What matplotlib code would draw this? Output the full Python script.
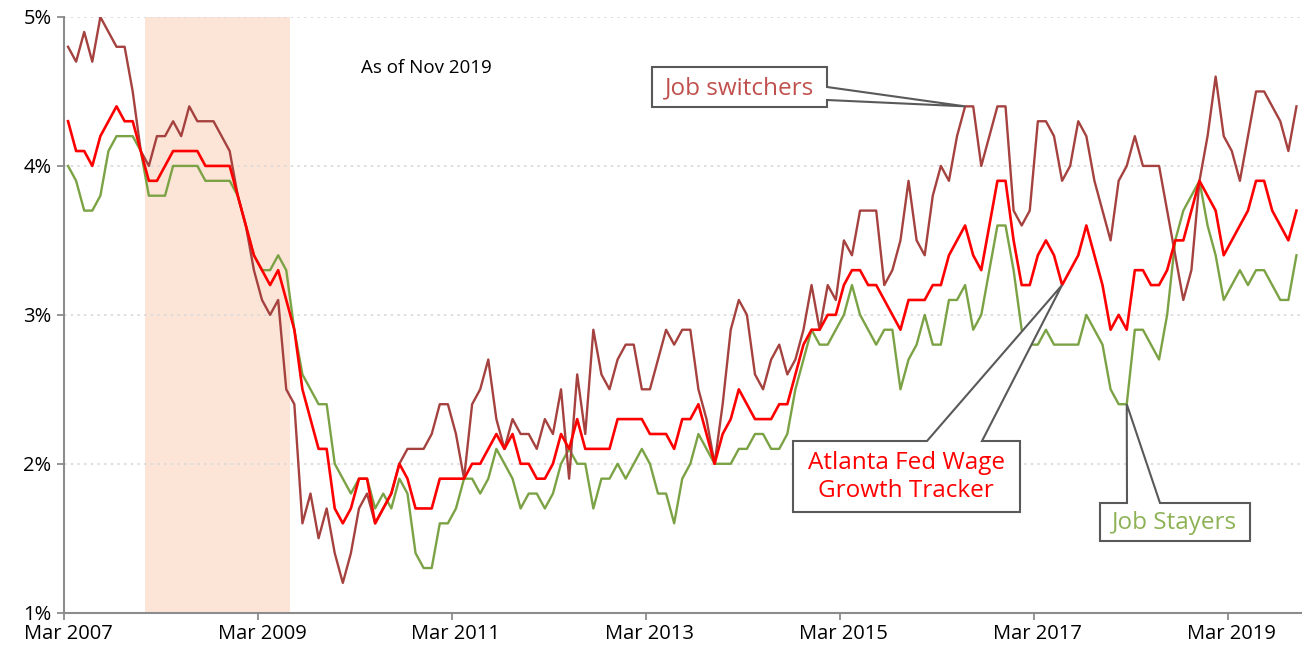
import matplotlib
matplotlib.use("Agg")
import matplotlib.pyplot as plt
from matplotlib.patches import Polygon
import numpy as np
import pandas as pd

# monthly wage growth, 3-month moving average of median (%), Mar 2007 .. Nov 2019
switchers = [4.8, 4.7, 4.9, 4.7, 5.0, 4.9, 4.8, 4.8, 4.5, 4.1, 4.0, 4.2, 4.2, 4.3, 4.2, 4.4, 4.3, 4.3, 4.3, 4.2,
             4.1, 3.8, 3.6, 3.3, 3.1, 3.0, 3.1, 2.5, 2.4, 1.6, 1.8, 1.5, 1.7, 1.4, 1.2, 1.4, 1.7, 1.8, 1.6, 1.7,
             1.8, 2.0, 2.1, 2.1, 2.1, 2.2, 2.4, 2.4, 2.2, 1.9, 2.4, 2.5, 2.7, 2.3, 2.1, 2.3, 2.2, 2.2, 2.1, 2.3,
             2.2, 2.5, 1.9, 2.6, 2.2, 2.9, 2.6, 2.5, 2.7, 2.8, 2.8, 2.5, 2.5, 2.7, 2.9, 2.8, 2.9, 2.9, 2.5, 2.3,
             2.0, 2.4, 2.9, 3.1, 3.0, 2.6, 2.5, 2.7, 2.8, 2.6, 2.7, 2.9, 3.2, 2.9, 3.2, 3.1, 3.5, 3.4, 3.7, 3.7,
             3.7, 3.2, 3.3, 3.5, 3.9, 3.5, 3.4, 3.8, 4.0, 3.9, 4.2, 4.4, 4.4, 4.0, 4.2, 4.4, 4.4, 3.7, 3.6, 3.7,
             4.3, 4.3, 4.2, 3.9, 4.0, 4.3, 4.2, 3.9, 3.7, 3.5, 3.9, 4.0, 4.2, 4.0, 4.0, 4.0, 3.7, 3.4, 3.1, 3.3,
             3.9, 4.2, 4.6, 4.2, 4.1, 3.9, 4.2, 4.5, 4.5, 4.4, 4.3, 4.1, 4.4]
tracker = [4.3, 4.1, 4.1, 4.0, 4.2, 4.3, 4.4, 4.3, 4.3, 4.1, 3.9, 3.9, 4.0, 4.1, 4.1, 4.1, 4.1, 4.0, 4.0, 4.0,
           4.0, 3.8, 3.6, 3.4, 3.3, 3.2, 3.3, 3.1, 2.9, 2.5, 2.3, 2.1, 2.1, 1.7, 1.6, 1.7, 1.9, 1.9, 1.6, 1.7,
           1.8, 2.0, 1.9, 1.7, 1.7, 1.7, 1.9, 1.9, 1.9, 1.9, 2.0, 2.0, 2.1, 2.2, 2.1, 2.2, 2.0, 2.0, 1.9, 1.9,
           2.0, 2.2, 2.1, 2.3, 2.1, 2.1, 2.1, 2.1, 2.3, 2.3, 2.3, 2.3, 2.2, 2.2, 2.2, 2.1, 2.3, 2.3, 2.4, 2.2,
           2.0, 2.2, 2.3, 2.5, 2.4, 2.3, 2.3, 2.3, 2.4, 2.4, 2.6, 2.8, 2.9, 2.9, 3.0, 3.0, 3.2, 3.3, 3.3, 3.2,
           3.2, 3.1, 3.0, 2.9, 3.1, 3.1, 3.1, 3.2, 3.2, 3.4, 3.5, 3.6, 3.4, 3.3, 3.6, 3.9, 3.9, 3.5, 3.2, 3.2,
           3.4, 3.5, 3.4, 3.2, 3.3, 3.4, 3.6, 3.4, 3.2, 2.9, 3.0, 2.9, 3.3, 3.3, 3.2, 3.2, 3.3, 3.5, 3.5, 3.7,
           3.9, 3.8, 3.7, 3.4, 3.5, 3.6, 3.7, 3.9, 3.9, 3.7, 3.6, 3.5, 3.7]
stayers = [4.0, 3.9, 3.7, 3.7, 3.8, 4.1, 4.2, 4.2, 4.2, 4.1, 3.8, 3.8, 3.8, 4.0, 4.0, 4.0, 4.0, 3.9, 3.9, 3.9,
           3.9, 3.8, 3.6, 3.4, 3.3, 3.3, 3.4, 3.3, 2.9, 2.6, 2.5, 2.4, 2.4, 2.0, 1.9, 1.8, 1.9, 1.9, 1.7, 1.8,
           1.7, 1.9, 1.8, 1.4, 1.3, 1.3, 1.6, 1.6, 1.7, 1.9, 1.9, 1.8, 1.9, 2.1, 2.0, 1.9, 1.7, 1.8, 1.8, 1.7,
           1.8, 2.0, 2.1, 2.0, 2.0, 1.7, 1.9, 1.9, 2.0, 1.9, 2.0, 2.1, 2.0, 1.8, 1.8, 1.6, 1.9, 2.0, 2.2, 2.1,
           2.0, 2.0, 2.0, 2.1, 2.1, 2.2, 2.2, 2.1, 2.1, 2.2, 2.5, 2.7, 2.9, 2.8, 2.8, 2.9, 3.0, 3.2, 3.0, 2.9,
           2.8, 2.9, 2.9, 2.5, 2.7, 2.8, 3.0, 2.8, 2.8, 3.1, 3.1, 3.2, 2.9, 3.0, 3.3, 3.6, 3.6, 3.3, 2.9, 2.8,
           2.8, 2.9, 2.8, 2.8, 2.8, 2.8, 3.0, 2.9, 2.8, 2.5, 2.4, 2.4, 2.9, 2.9, 2.8, 2.7, 3.0, 3.5, 3.7, 3.8,
           3.9, 3.6, 3.4, 3.1, 3.2, 3.3, 3.2, 3.3, 3.3, 3.2, 3.1, 3.1, 3.4]

months = pd.date_range("2007-03-01", periods=len(tracker), freq="MS")
recession = ("2007-12", "2009-06")
switch_point = "2016-06"
tracker_point = "2017-06"
stayer_point = "2018-02"

c_switch = "#A5423F"
c_track = "#FF0000"
c_stay = "#7BA244"
axis_grey = "#8C8C8C"
box_grey = "#595959"

plt.rcParams["font.family"] = ["Open Sans", "DejaVu Sans"]

fig = plt.figure(figsize=(13.07, 6.54), dpi=100)
ax = fig.add_axes([64 / 1307, 41.3 / 654, 1236.5 / 1307, 595.7 / 654])

x = np.arange(len(months))
labels = [m.strftime("%Y-%m") for m in months]

r0 = labels.index(recession[0])
r1 = labels.index(recession[1])
ax.axvspan(r0 + 0.5, r1 + 0.5, color="#FCE5D6", lw=0, zorder=0)

ax.plot(x, stayers, color=c_stay, lw=1.7, zorder=3)
ax.plot(x, switchers, color=c_switch, lw=1.7, zorder=3)
ax.plot(x, tracker, color=c_track, lw=1.9, zorder=4)

ax.set_xlim(-0.5, len(months) - 0.5)
ax.set_ylim(1, 5)

# y axis
ax.set_yticks([1, 2, 3, 4, 5])
ax.set_yticklabels(["1%", "2%", "3%", "4%", "5%"])
for v in [2, 3, 4, 5]:
    ax.axhline(v, color="#D9D9D9", lw=1.2, ls=(0, (1.5, 2.5)), zorder=1)

# x axis: tick marks between categories, labels on the March points
lab_idx = [i for i, m in enumerate(months) if m.month == 3 and m.year % 2 == 1]
ax.set_xticks([i - 0.5 for i in lab_idx])
ax.set_xticklabels([])
ax.set_xticks(lab_idx, minor=True)
ax.set_xticklabels([months[i].strftime("%b %Y") for i in lab_idx], minor=True)

ax.tick_params(axis="both", which="major", length=5, width=1.3, color=axis_grey,
               labelsize=14.5, labelcolor="black")
ax.tick_params(axis="x", which="minor", length=0, labelsize=14.5, pad=8)
ax.tick_params(axis="y", pad=4)

for s in ["top", "right"]:
    ax.spines[s].set_visible(False)
for s in ["left", "bottom"]:
    ax.spines[s].set_color(axis_grey)
    ax.spines[s].set_linewidth(1.5)

fig.canvas.draw()
H = 654


def disp(px, py):
    return (px, H - py)


def tip(series, label):
    i = labels.index(label)
    return tuple(ax.transData.transform((i, series[i])))


def callout(pts, color, text, tx, ty, size):
    poly = Polygon(pts, closed=True, transform=None, facecolor="white",
                   edgecolor=box_grey, lw=1.5, zorder=10)
    fig.add_artist(poly)
    fig.text(tx / 1307, 1 - ty / H, text, color=color, fontsize=size,
             ha="center", va="center", zorder=11, linespacing=1.2)


# Job switchers
t = tip(switchers, switch_point)
callout([disp(652, 67), disp(827, 67), disp(827, 87), t, disp(827, 100),
         disp(827, 107), disp(652, 107)], "#C0504D", "Job switchers", 740, 88, 17.5)

# Atlanta Fed Wage Growth Tracker
t = tip(tracker, tracker_point)
callout([disp(793, 441), disp(927, 441), t, disp(982, 441), disp(1020, 441),
         disp(1020, 512), disp(793, 512)], c_track, "Atlanta Fed Wage\nGrowth Tracker", 906, 477, 17.5)

# Job Stayers
t = tip(stayers, stayer_point)
callout([disp(1100, 503), disp(1127, 503), t, disp(1160, 503), disp(1250, 503),
         disp(1250, 541), disp(1100, 541)], "#8DB255", "Job Stayers", 1175, 523, 17.5)

fig.text(426 / 1307, 1 - 68 / H, "As of Nov 2019", fontsize=13.5, ha="center", va="center")

fig.savefig("out.png", dpi=100)
